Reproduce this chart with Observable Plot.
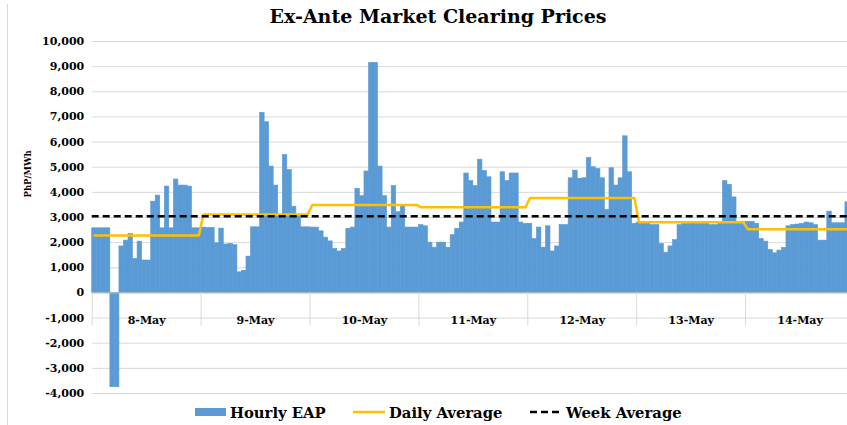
<!DOCTYPE html>
<html><head><meta charset="utf-8">
<script src="https://cdn.jsdelivr.net/npm/d3@7"></script>
<script src="https://cdn.jsdelivr.net/npm/@observablehq/plot@0.6"></script>
<style>
html,body{margin:0;padding:0;background:#fff;overflow:hidden;width:847px;height:425px;}
#wrap{position:relative;width:847px;height:425px;}
#border{position:absolute;left:7px;top:4px;width:0;height:421px;border-left:1px solid #d9d9d9;}
#title{position:absolute;left:0;top:5px;width:876px;height:34px;line-height:36px;text-align:center;font:bold 19px "DejaVu Serif";color:#000;}
#chart{position:absolute;left:0;top:34px;}
#legend{position:absolute;left:0;top:399px;width:847px;height:26px;font:bold 14.8px "DejaVu Serif";color:#000;}
.item{position:absolute;top:4px;height:18px;display:flex;align-items:center;gap:4px;white-space:nowrap;}
.item svg{display:block;}
</style></head>
<body>
<div id="wrap">
  <div id="border"></div>
  <div id="title">Ex-Ante Market Clearing Prices</div>
  <div id="chart"></div>
  <div id="legend">
    <div class="item" style="left:195px"><svg width="31" height="8"><rect width="31" height="8" fill="#5B9BD5"/></svg><span>Hourly EAP</span></div>
    <div class="item" style="left:353px"><svg width="32" height="8"><line x1="0" x2="32" y1="4" y2="4" stroke="#FFC000" stroke-width="2.5"/></svg><span>Daily Average</span></div>
    <div class="item" style="left:530px"><svg width="32" height="8"><line x1="0" x2="32" y1="4" y2="4" stroke="#000" stroke-width="2.5" stroke-dasharray="7,4"/></svg><span>Week Average</span></div>
  </div>
</div>
<script>
// ---- data (PhP/MWh) ----
const days = ["8-May", "9-May", "10-May", "11-May", "12-May", "13-May", "14-May"];
const eap8May  = [2570,2570,2570,2570,-3750,-3750,1850,2080,2350,1350,2040,1290,1290,3630,3870,2570,4230,2570,4510,4270,4270,4230,2570,2570];
const eap9May  = [2600,2590,2590,1975,2560,1925,1950,1900,820,880,1445,2610,2610,7160,6790,5025,4270,3100,5490,4890,3430,3100,2610,2610];
const eap10May = [2600,2600,2450,2200,2050,1750,1650,1750,2550,2600,4140,3850,4830,9150,9150,5025,3850,2600,4250,3210,3450,2600,2600,2600];
const eap11May = [2700,2650,2000,1800,2000,2000,1800,2300,2550,2800,4750,4450,4250,5300,4850,4600,2800,2800,4800,4450,4750,4750,2800,2750];
const eap12May = [2750,2150,2600,1800,2650,1650,1850,2700,2700,4560,4865,4535,4560,5370,5000,4930,4560,3300,4960,4270,4560,6230,4800,2750];
const eap13May = [2800,2800,2800,2700,2700,1950,1600,1850,2100,2700,2750,2800,2800,2800,2800,2800,2700,2700,2800,4450,4300,3800,2800,2800];
const eap14May = [2830,2830,2750,2150,2040,1710,1575,1685,1790,2650,2700,2720,2750,2800,2770,2700,2080,2080,3235,2770,2770,2770,3605,3600];
const dailyAvg = [2280, 3115, 3500, 3405, 3780, 2810, 2530];
const weekAvg = 3050;
const yTicks = [-4000,-3000,-2000,-1000,0,1000,2000,3000,4000,5000,6000,7000,8000,9000,10000];

const allEap = [eap8May, eap9May, eap10May, eap11May, eap12May, eap13May, eap14May];
const hours = [];
allEap.forEach((arr, d) => arr.forEach((v, h) => hours.push({i: d * 24 + h, day: d, v})));
const dayBounds = d3.range(0, days.length + 1).map(d => d * 24);
const serif = "DejaVu Serif";

const chart = Plot.plot({
  width: 847,
  height: 365,
  marginLeft: 91.7,
  marginRight: 0,
  marginTop: 7,
  marginBottom: 6,
  style: {background: "transparent", overflow: "hidden"},
  x: {type: "linear", domain: [0, 168], range: [91.7, 854], axis: null},
  y: {domain: [-4000, 10000], range: [359, 7], axis: null},
  marks: [
    Plot.ruleY(yTicks, {stroke: "#d9d9d9", strokeWidth: 1}),
    Plot.rect(hours, {x1: d => d.i, x2: d => d.i + 1, y1: 0, y2: d => d.v, fill: "#5B9BD5", stroke: "#5B9BD5", strokeWidth: 0.6}),
    Plot.ruleY([0], {stroke: "#bfbfbf", strokeWidth: 1}),
    Plot.ruleX(dayBounds, {y1: 0, y2: 0, insetBottom: -33, stroke: "#d9d9d9", strokeWidth: 1}),
    Plot.text(days, {x: (d, k) => k * 24 + 12, y: 0, dy: 28, text: d => d, fontWeight: "bold", fontSize: 11, fontFamily: serif, fill: "#000"}),
    Plot.line(hours, {x: d => d.i + 0.5, y: d => dailyAvg[d.day], stroke: "#FFC000", strokeWidth: 2.5}),
    Plot.ruleY([weekAvg], {stroke: "#000", strokeWidth: 2.5, strokeDasharray: "7,4"}),
    Plot.axisY(yTicks, {anchor: "left", tickSize: 0, tickPadding: 8, label: null, tickFormat: d => d.toLocaleString("en-US"), fontWeight: "bold", fontSize: 11, fontFamily: serif, fill: "#000"}),
    Plot.text(["PhP/MWh"], {frameAnchor: "left", text: d => d, rotate: -90, dx: -64, dy: -20, fontWeight: "bold", fontSize: 8.5, fontFamily: serif, fill: "#000"})
  ]
});
document.getElementById("chart").appendChild(chart);
</script>
</body></html>
